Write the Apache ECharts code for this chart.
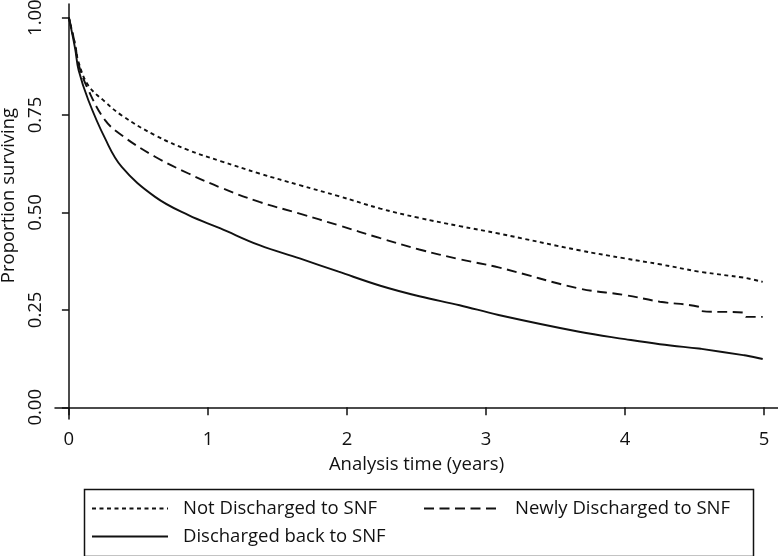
<!DOCTYPE html>
<html>
<head>
<meta charset="utf-8">
<script src="https://cdn.jsdelivr.net/npm/echarts@6/dist/echarts.min.js"></script>
<style>html,body{margin:0;padding:0;background:#fff}#c{width:778px;height:556px}</style>
</head>
<body>
<div id="c"></div>
<script>
const seriesNames = ['Not Discharged to SNF', 'Newly Discharged to SNF', 'Discharged back to SNF'];
const time = [0, 0.045, 0.07, 0.14, 0.26, 0.38, 0.62, 0.86, 1.09, 1.37, 1.66, 1.94, 2.24, 2.52, 2.81, 3.09, 3.67, 4.0, 4.25, 4.53, 4.55, 4.85, 4.87, 4.99];
const notDischarged = [1, 0.93, 0.885, 0.826, 0.784, 0.749, 0.698, 0.660, 0.632, 0.600, 0.570, 0.542, 0.510, 0.486, 0.465, 0.446, 0.403, 0.382, 0.367, 0.348, 0.347, 0.333, 0.332, 0.322];
const newlyDischarged = [1, 0.93, 0.88, 0.814, 0.737, 0.698, 0.643, 0.600, 0.564, 0.527, 0.497, 0.467, 0.434, 0.405, 0.380, 0.359, 0.305, 0.288, 0.271, 0.258, 0.247, 0.243, 0.232, 0.232];
const dischargedBack = [1, 0.92, 0.865, 0.788, 0.69, 0.617, 0.540, 0.493, 0.459, 0.416, 0.382, 0.348, 0.312, 0.285, 0.262, 0.237, 0.194, 0.175, 0.162, 0.151, 0.150, 0.134, 0.133, 0.124];
const xTicks = [0, 1, 2, 3, 4, 5];
const yTicks = [0, 0.25, 0.5, 0.75, 1];

const FONT = '"Open Sans", "DejaVu Sans", sans-serif';
const FS = 18.5;
const ink = '#111';
const pair = arr => time.map((t, i) => [t, arr[i]]);
const dashes = [[4, 3.5], [10, 5.5], 'solid'];
const values = [notDischarged, newlyDischarged, dischargedBack];

const chart = echarts.init(document.getElementById('c'), null, {renderer: 'canvas'});
const legendPos = [
  {left: 91, top: 499},
  {left: 423, top: 499},
  {left: 91, top: 527}
];
chart.setOption({
  backgroundColor: '#fff',
  animation: false,
  textStyle: {fontFamily: FONT},
  grid: {left: 55, right: 0, top: 4, bottom: 137, containLabel: false, outerBoundsMode: 'none'},
  xAxis: {
    type: 'value', min: -0.1, max: 5.1,
    name: 'Analysis time (years)', nameLocation: 'middle', nameGap: 36,
    nameTextStyle: {fontFamily: FONT, fontSize: FS, color: ink},
    axisLine: {show: true, lineStyle: {color: ink, width: 1.5}},
    axisTick: {show: true, length: 8, lineStyle: {color: ink, width: 1.5}, customValues: xTicks},
    axisLabel: {customValues: xTicks, fontFamily: FONT, fontSize: FS, color: ink, margin: 11},
    splitLine: {show: false}
  },
  yAxis: {
    type: 'value', min: -0.03, max: 1.035,
    name: 'Proportion surviving', nameLocation: 'middle', nameGap: 34,
    nameTextStyle: {fontFamily: FONT, fontSize: FS, color: ink, padding: [0, 0, 0, 32]},
    axisLine: {show: true, lineStyle: {color: ink, width: 1.5}},
    axisTick: {show: true, length: 7, lineStyle: {color: ink, width: 1.5}, customValues: yTicks},
    axisLabel: {customValues: yTicks, rotate: 90, fontFamily: FONT, fontSize: FS, color: ink, margin: 10,
      formatter: v => v.toFixed(2)},
    splitLine: {show: false}
  },
  legend: seriesNames.map((n, i) => ({
    data: [n], left: legendPos[i].left, top: legendPos[i].top, padding: 0,
    itemWidth: 76, itemHeight: 14, orient: 'horizontal',
    textStyle: {fontFamily: FONT, fontSize: FS, color: ink, padding: [0, 0, 0, 10]},
    itemStyle: {opacity: 0}
  })),
  graphic: [{
    type: 'rect', left: 82, top: 487, z: 0,
    shape: {width: 669, height: 67},
    style: {fill: 'none', stroke: ink, lineWidth: 1.5}
  }],
  series: seriesNames.map((n, i) => ({
    name: n, type: 'line', data: pair(values[i]),
    showSymbol: false, symbol: 'none', smooth: 0.4,
    lineStyle: {color: ink, width: 1.9, type: dashes[i]},
    itemStyle: {color: ink}
  }))
});
</script>
</body>
</html>
